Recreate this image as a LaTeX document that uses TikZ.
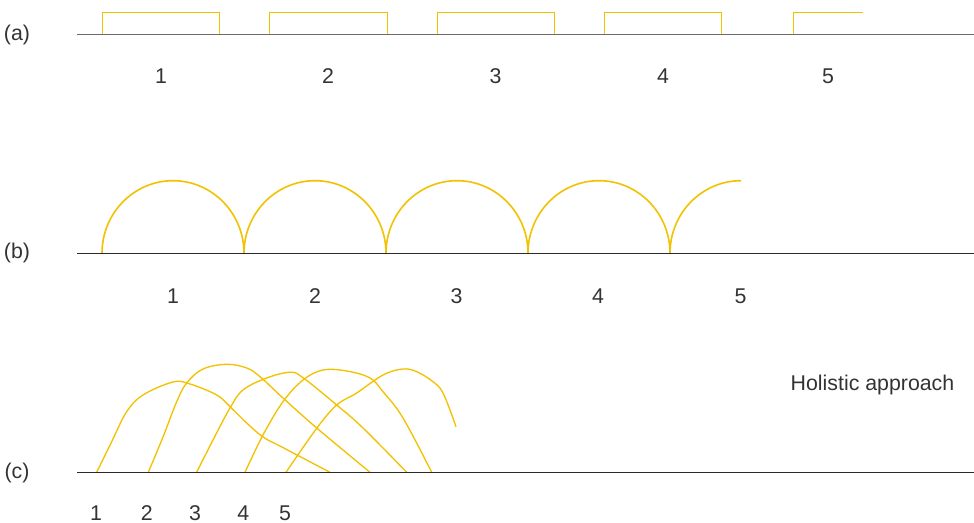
\documentclass[tikz,border=0pt]{standalone}
\usepackage{fontspec}
\setmainfont{Liberation Sans}
\definecolor{ylw}{HTML}{F2C200}
\definecolor{txt}{HTML}{333333}
\definecolor{axisA}{HTML}{6A6A6A}
\definecolor{axisB}{HTML}{2A2A2A}
\begin{document}
\begin{tikzpicture}[x=0.75pt,y=-0.75pt,
  lbl/.style={font=\fontsize{16}{19}\selectfont, text=txt, inner sep=0pt},
  axisa/.style={draw=axisA, line width=1.1pt},
  axisb/.style={draw=axisB, line width=1pt},
  yel/.style={draw=ylw, line width=1.2pt},
  curve/.style={draw=ylw, line width=1pt, line join=round}]
\useasboundingbox (0,0) rectangle (974,523);

% ---------- (a) ----------
\node[lbl] (la) at (17,35) {(a)};
\coordinate (a0) at (77,34.5);
\coordinate (a1) at (974,34.5);
\draw[yel] (102.5,34.5) rectangle (219.5,12.5);
\draw[yel] (269.5,34.5) rectangle (387.5,12.5);
\draw[yel] (437.5,34.5) rectangle (554.5,12.5);
\draw[yel] (604.5,34.5) rectangle (721.5,12.5);
\draw[yel] (862.7,12.5) -- (793.5,12.5) -- (793.5,34.5) -- (862.7,34.5);
\draw[axisa] (a0) -- (a1);
\node[lbl] (na1) at (161,76) {1};
\node[lbl] (na2) at (328,76) {2};
\node[lbl] (na3) at (495.5,76) {3};
\node[lbl] (na4) at (663,76) {4};
\node[lbl] (na5) at (828,76) {5};

% ---------- (b) ----------
\node[lbl] (lb) at (17,253) {(b)};
\coordinate (b0) at (77,253.3);
\coordinate (b1) at (974,253.3);
\draw[yel] (102,253.3) arc[start angle=180, end angle=360, x radius=71, y radius=72.6];
\draw[yel] (244,253.3) arc[start angle=180, end angle=360, x radius=71, y radius=72.6];
\draw[yel] (386,253.3) arc[start angle=180, end angle=360, x radius=71, y radius=72.6];
\draw[yel] (528,253.3) arc[start angle=180, end angle=360, x radius=71, y radius=72.6];
\draw[yel] (670,253.3) arc[start angle=180, end angle=270, x radius=71, y radius=72.6];
\draw[axisb] (b0) -- (b1);
\node[lbl] (nb1) at (173,296) {1};
\node[lbl] (nb2) at (315,296) {2};
\node[lbl] (nb3) at (456.5,296) {3};
\node[lbl] (nb4) at (598,296) {4};
\node[lbl] (nb5) at (740.5,296) {5};

% ---------- (c) ----------
\node[lbl] (lc) at (17,472.5) {(c)};
\coordinate (c0) at (77,472.3);
\coordinate (c1) at (974,472.3);
\node[lbl] (hol) at (872.5,385) {Holistic approach};
\draw[curve] plot[smooth, tension=0.6] coordinates {(96.7,472.3) (112,441) (126.7,411.7) (143,395) (173,382) (190,384) (216.7,395) (230,406.7) (246.7,423) (263,437) (280,446) (297,455) (330,472.3)};
\draw[curve] plot[smooth, tension=0.6] coordinates {(148.3,472.3) (163,437) (176.7,401.7) (186.7,383) (203,369) (226.7,364.3) (246.7,368) (260,376.7) (283,398) (316.7,428) (370,472.3)};
\draw[curve] plot[smooth, tension=0.6] coordinates {(196.7,472.3) (213,440) (230,408) (243,390) (266.7,378) (290,372.3) (303,377.7) (336.7,405) (363,428) (406.7,472.3)};
\draw[curve] plot[smooth, tension=0.6] coordinates {(245,472.3) (263,435) (283,401.7) (303,380) (323,370) (346.7,371) (370,378) (383,391.7) (403,418) (431.7,472.3)};
\draw[curve] plot[smooth, tension=0.6] coordinates {(286,472.3) (316.7,428.3) (336.7,405) (356.7,393) (383,375) (403,369) (416.7,371.7) (432,381) (443,393) (456,426.7)};
\draw[axisb] (c0) -- (c1);
\node[lbl] (nc1) at (96,513) {1};
\node[lbl] (nc2) at (146.7,513) {2};
\node[lbl] (nc3) at (195,513) {3};
\node[lbl] (nc4) at (243.3,513) {4};
\node[lbl] (nc5) at (285,513) {5};
\end{tikzpicture}
\end{document}
